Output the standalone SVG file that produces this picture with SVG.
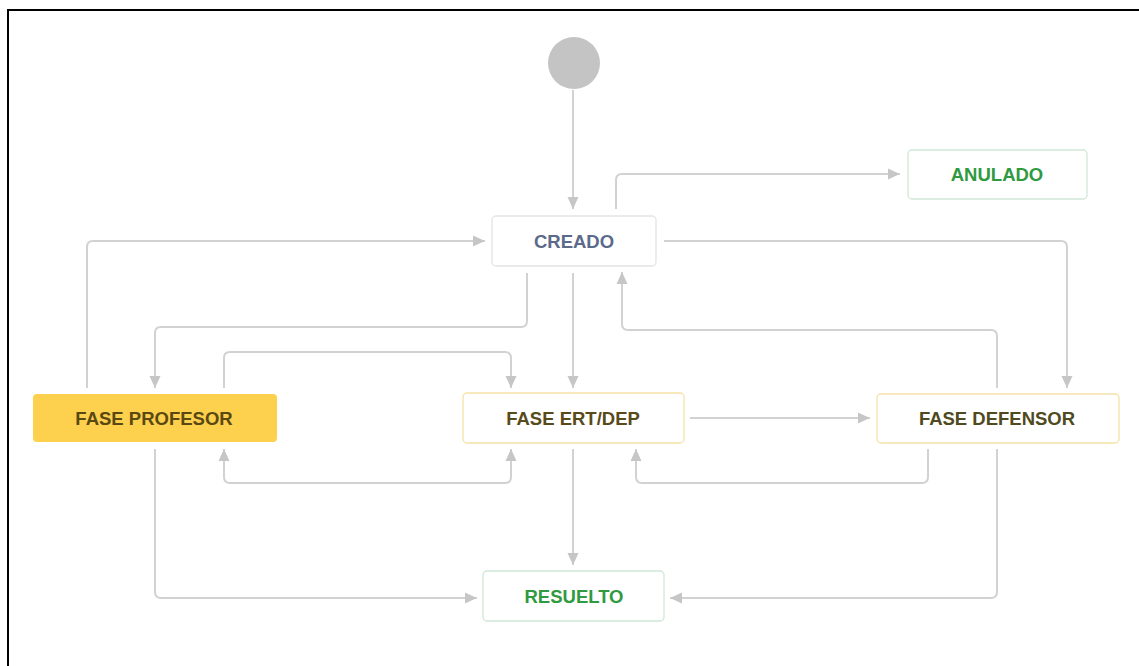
<svg xmlns="http://www.w3.org/2000/svg" width="1139" height="666" viewBox="0 0 1139 666">
<style>
.bg{fill:#ffffff}
.frame{fill:none;stroke:#000;stroke-width:2}
.box{stroke-width:1.3}
.t{font-family:"Liberation Sans",Arial,sans-serif;font-weight:bold;font-size:18.5px;text-anchor:middle}
.e{fill:none;stroke:#d2d2d2;stroke-width:2}
</style>
<defs>
<marker id="a" viewBox="0 0 12 12" refX="12" refY="6" markerWidth="12" markerHeight="12" markerUnits="userSpaceOnUse" orient="auto-start-reverse">
<path d="M0 0.5 L12 6 L0 11.5 z" fill="#c6c6c6"/>
</marker>
</defs>
<rect class="bg" x="0" y="0" width="1139" height="666"/>
<path class="frame" d="M8 666 V10 H1139"/>

<g id="connectors">
<path class="e" d="M573 90 V209" marker-end="url(#a)"/>
<path class="e" d="M616 209 V180 Q616 174 622 174 H900" marker-end="url(#a)"/>
<path class="e" d="M664 241 H1061 Q1067 241 1067 247 V388" marker-end="url(#a)"/>
<path class="e" d="M87 388 V247 Q87 241 93 241 H485" marker-end="url(#a)"/>
<path class="e" d="M527 273 V321 Q527 327 521 327 H161 Q155 327 155 333 V388" marker-end="url(#a)"/>
<path class="e" d="M573 273 V388" marker-end="url(#a)"/>
<path class="e" d="M997 388 V336 Q997 330 991 330 H628 Q622 330 622 324 V272" marker-end="url(#a)"/>
<path class="e" d="M224 388 V358 Q224 352 230 352 H505 Q511 352 511 358 V388" marker-end="url(#a)"/>
<path class="e" d="M224 449 V477 Q224 483 230 483 H505 Q511 483 511 477 V449" marker-start="url(#a)" marker-end="url(#a)"/>
<path class="e" d="M690 418 H870" marker-end="url(#a)"/>
<path class="e" d="M928 449 V477 Q928 483 922 483 H642 Q636 483 636 477 V449" marker-end="url(#a)"/>
<path class="e" d="M573 449 V565" marker-end="url(#a)"/>
<path class="e" d="M155 449 V592 Q155 598 161 598 H477" marker-end="url(#a)"/>
<path class="e" d="M997 449 V592 Q997 598 991 598 H670" marker-end="url(#a)"/>
</g>

<g id="start">
<circle cx="574" cy="63" r="26" fill="#c4c4c4"/>
</g>
<g id="creado">
<rect class="box" x="492" y="216" width="164" height="50" rx="4" fill="#fff" stroke="#e4e4e4"/>
<text class="t" x="574" y="247.5" fill="#5b6a8a">CREADO</text>
</g>
<g id="anulado">
<rect class="box" x="908" y="150" width="179" height="49" rx="4" fill="#fff" stroke="#cfe8d6"/>
<text class="t" x="997" y="181" fill="#2f9a40">ANULADO</text>
</g>
<g id="fase-profesor">
<rect x="33" y="394" width="244" height="48" rx="4" fill="#fdd04e"/>
<text class="t" x="154" y="424.5" fill="#5a4812">FASE PROFESOR</text>
</g>
<g id="fase-ertdep">
<rect class="box" x="463" y="393" width="221" height="50" rx="4" fill="#fff" stroke="#f5e2a6"/>
<text class="t" x="573" y="424.5" fill="#594a1a">FASE ERT/DEP</text>
</g>
<g id="fase-defensor">
<rect class="box" x="877" y="394" width="242" height="49" rx="4" fill="#fff" stroke="#f5e2a6"/>
<text class="t" x="997" y="425" fill="#4f4a20">FASE DEFENSOR</text>
</g>
<g id="resuelto">
<rect class="box" x="483" y="571" width="181" height="50" rx="4" fill="#fff" stroke="#cfe8d6"/>
<text class="t" x="574" y="602.5" fill="#2f9a40">RESUELTO</text>
</g>
</svg>
